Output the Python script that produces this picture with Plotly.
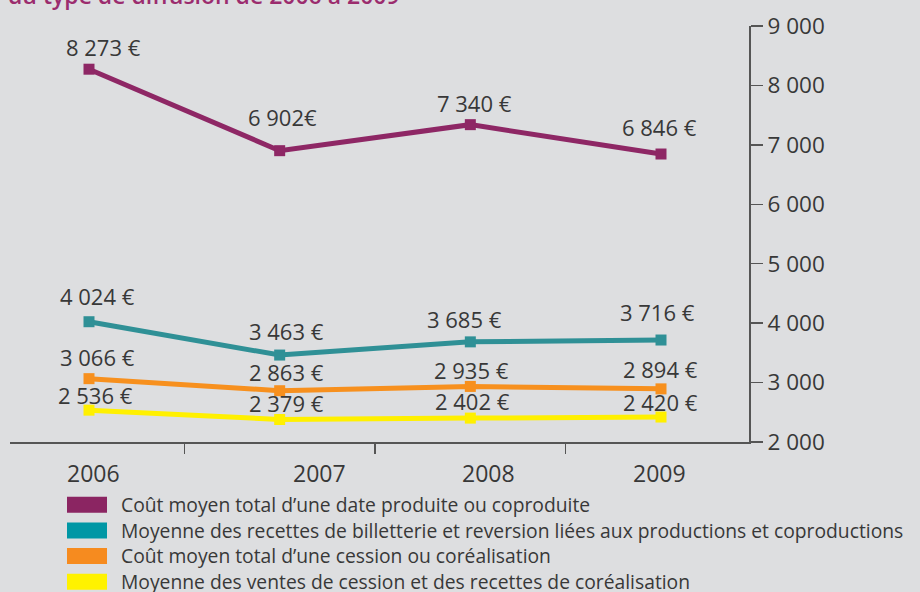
import plotly.graph_objects as go

# ---- data ----
years = ["2006", "2007", "2008", "2009"]
series_names = [
    "Coût moyen total d’une date produite ou coproduite",
    "Moyenne des recettes de billetterie et reversion liées aux productions et coproductions",
    "Coût moyen total d’une cession ou coréalisation",
    "Moyenne des ventes de cession et des recettes de coréalisation",
]
cout_date = [8273, 6902, 7340, 6846]
recettes_billetterie = [4024, 3463, 3685, 3716]
cout_cession = [3066, 2863, 2935, 2894]
ventes_cession = [2536, 2379, 2402, 2420]
labels_cout_date = ["8 273 €", "6 902€", "7 340 €", "6 846 €"]
labels_recettes = ["4 024 €", "3 463 €", "3 685 €", "3 716 €"]
labels_cout_cession = ["3 066 €", "2 863 €", "2 935 €", "2 894 €"]
labels_ventes = ["2 536 €", "2 379 €", "2 402 €", "2 420 €"]
y_tickvals = [2000, 3000, 4000, 5000, 6000, 7000, 8000, 9000]
y_ticktext = ["2 000", "3 000", "4 000", "5 000", "6 000", "7 000", "8 000", "9 000"]
title_text = "du type de diffusion de 2006 à 2009"

series_values = [cout_date, recettes_billetterie, cout_cession, ventes_cession]
series_labels = [labels_cout_date, labels_recettes, labels_cout_cession, labels_ventes]

# ---- style ----
line_colors = ["#8E2765", "#2F9096", "#F7901E", "#FFF000"]
legend_colors = ["#8B2562", "#0097A5", "#F68B1F", "#FFF200"]
# label offsets (px) relative to each point
label_dx = [[14, 3, 4, -2], [8, 7, -6, -4], [8, 7, 1, -1], [6, 7, 2, -1]]
label_dy = [[22, 34, 22, 27], [26, 24, 23, 28], [22, 19, 16, 20], [15, 16, 17, 15]]
year_dx = [4, 40, 18, -2]

BG = "#DDDEE0"
TXT = "#383838"
FONT = "Open Sans"

L, R, T, B = 10, 749, 24, 442
W, H = R - L, B - T


def px_x(p):
    return (p - L) / W


def px_y(p):
    return (B - p) / H


x_pos = list(range(len(years)))
fig = go.Figure()

for name, vals, col in zip(series_names, series_values, line_colors):
    fig.add_trace(go.Scatter(
        x=x_pos, y=vals, name=name, mode="lines+markers",
        line=dict(color=col, width=5),
        marker=dict(symbol="square", size=11, color=col),
        showlegend=False, hoverinfo="skip",
    ))

annotations = []
for si, (vals, labs) in enumerate(zip(series_values, series_labels)):
    for i, (v, t) in enumerate(zip(vals, labs)):
        annotations.append(dict(
            x=x_pos[i], y=v, xref="x", yref="y", text=t, showarrow=False,
            xshift=label_dx[si][i], yshift=label_dy[si][i],
            font=dict(family=FONT, size=22, color=TXT),
            xanchor="center", yanchor="middle",
        ))

for i, yr in enumerate(years):
    annotations.append(dict(
        x=x_pos[i], y=px_y(473.5), xref="x", yref="paper", text=yr,
        showarrow=False, xshift=year_dx[i],
        font=dict(family=FONT, size=23, color=TXT),
        xanchor="center", yanchor="middle",
    ))

# manual legend
legend_rows = [505, 531, 556.5, 582.5]
shapes = []
for name, col, yc in zip(series_names, legend_colors, legend_rows):
    shapes.append(dict(
        type="rect", xref="paper", yref="paper",
        x0=px_x(67), x1=px_x(107), y0=px_y(yc + 8), y1=px_y(yc - 8),
        fillcolor=col, line=dict(width=0), layer="above",
    ))
    annotations.append(dict(
        x=px_x(119), y=px_y(yc), xref="paper", yref="paper", text=name,
        showarrow=False, xanchor="left", yanchor="middle",
        font=dict(family=FONT, size=19.3, color=TXT),
    ))

# cut-off title at top
annotations.append(dict(
    x=px_x(6), y=px_y(11), xref="paper", yref="paper", text=title_text,
    showarrow=False, xanchor="left", yanchor="bottom",
    font=dict(family=FONT, size=23, color="#9B2C6E", weight=600),
))

fig.update_layout(
    width=920, height=592,
    margin=dict(l=L, r=920 - R, t=T, b=592 - B, pad=0),
    paper_bgcolor=BG, plot_bgcolor=BG,
    showlegend=False,
    annotations=annotations, shapes=shapes,
    xaxis=dict(
        range=[-79 / 190.667, 3 + 88 / 190.667],
        tickvals=[0.5, 1.5, 2.5], ticktext=["", "", ""],
        ticks="outside", ticklen=10, tickwidth=1.5, tickcolor="#555555",
        showline=True, linecolor="#555555", linewidth=2,
        showgrid=False, zeroline=False, fixedrange=True,
    ),
    yaxis=dict(
        range=[2000, 9000], side="right",
        tickvals=y_tickvals, ticktext=y_ticktext,
        ticks="outside", ticklen=12, tickwidth=1.5, tickcolor="#555555",
        showline=True, linecolor="#555555", linewidth=2,
        showgrid=False, zeroline=False,
        tickfont=dict(family=FONT, size=22.5, color=TXT),
        fixedrange=True,
    ),
)

fig.write_html(
    "out.html",
    config={"displayModeBar": False, "staticPlot": True},
    post_script="document.body.style.margin='0';document.body.style.background='" + BG + "';",
)
